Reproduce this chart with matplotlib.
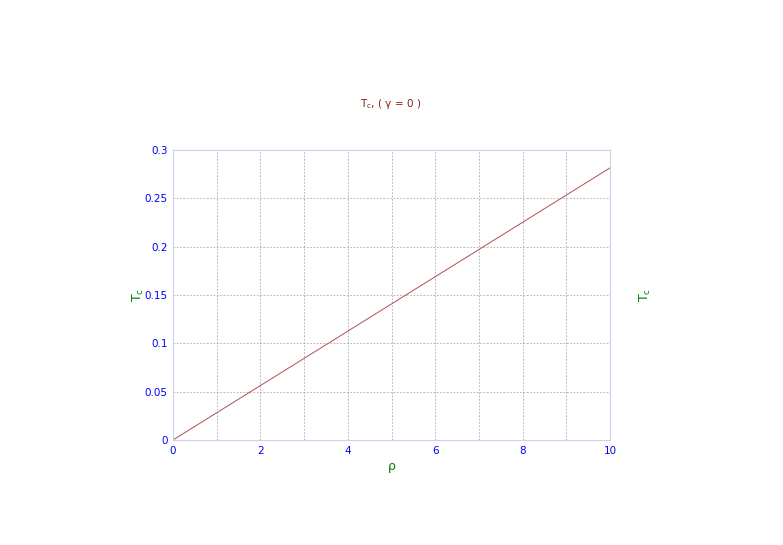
import matplotlib
matplotlib.use("Agg")
import matplotlib.pyplot as plt
from matplotlib.ticker import MultipleLocator, FuncFormatter

rho = [0, 2, 4, 6, 8, 10]
tc = [0.0, 0.0563, 0.1126, 0.1689, 0.2252, 0.2815]

fig = plt.figure(figsize=(7.83, 5.45), dpi=100)
ax = fig.add_axes([173 / 783, 1 - 440 / 545, (610 - 173) / 783, (440 - 150) / 545])

ax.plot(rho, tc, color="#b05050", lw=0.7)
ax.set_xlim(0, 10)
ax.set_ylim(0, 0.3)

ax.xaxis.set_major_locator(MultipleLocator(2))
ax.xaxis.set_minor_locator(MultipleLocator(1))
ax.yaxis.set_major_locator(MultipleLocator(0.05))

fmt = FuncFormatter(lambda v, p: ("%g" % round(v, 4)))
ax.yaxis.set_major_formatter(fmt)

gridstyle = dict(color="#a8a8a8", ls=(0, (2, 2)), lw=0.6)
ax.grid(which="both", axis="x", **gridstyle)
ax.grid(which="major", axis="y", **gridstyle)

for s in ax.spines.values():
    s.set_color("#d0d0ee")
    s.set_linewidth(0.8)

ax.tick_params(which="both", length=0, labelsize=7.5, labelcolor="blue", pad=4)
ax.tick_params(axis="y", labelright=True, right=True)

ax.set_xlabel("ρ", color="green", fontsize=9, labelpad=3)
ax.set_ylabel(r"T$_\mathrm{c}$", color="green", fontsize=9, labelpad=-1)

ax2 = ax.twinx()
ax2.set_ylim(0, 0.3)
ax2.set_yticks([])
for s in ax2.spines.values():
    s.set_visible(False)
ax2.set_ylabel(r"T$_\mathrm{c}$", color="green", fontsize=9, labelpad=20)

fig.text(391 / 783, 1 - 104 / 545, r"T$_\mathrm{c}$, ( γ = 0 )", color="#8b1a1a",
         fontsize=7.5, ha="center", va="center")

fig.savefig("out.png", dpi=100)
